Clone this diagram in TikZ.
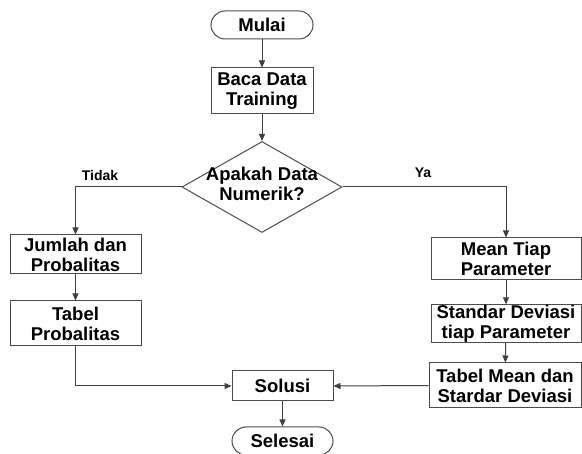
\documentclass[tikz,border=0pt]{standalone}
\usepackage{fontspec}
\setmainfont{Liberation Sans}
\usetikzlibrary{shapes.geometric,arrows.meta}
\begin{document}
\begin{tikzpicture}[x=1pt,y=-1pt,
  every node/.style={font=\bfseries\fontsize{18.5}{20}\selectfont, text=black},
  box/.style={draw=black!70, line width=1pt, fill=white, rectangle, inner sep=0pt, align=center},
  term/.style={box, rounded corners=14pt},
  dia/.style={draw=black!70, line width=1pt, diamond, inner sep=0pt},
  lbl/.style={font=\bfseries\fontsize{14}{15}\selectfont},
  conn/.style={draw=black!75, line width=1pt, -{Triangle[length=7pt,width=6pt]}},
  plain/.style={draw=black!75, line width=1pt}]
\useasboundingbox[fill=white] (0,0) rectangle (582,454);
\node[term, minimum width=102pt, minimum height=28pt] (mulai) at (262,25) {Mulai};
\node[box, minimum width=102pt, minimum height=46pt] (baca) at (262,91) {Baca Data\\Training};
\node[dia, minimum width=160pt, minimum height=91pt] (d) at (262,187) {};
\node[align=center, inner sep=0pt] (dtext) at (262,184) {Apakah Data\\Numerik?};
\node[box, minimum width=131pt, minimum height=39pt] (jumlah) at (75.5,254.5) {Jumlah dan\\Probalitas};
\node[box, minimum width=131pt, minimum height=45pt] (tabelp) at (75.5,323.5) {Tabel\\Probalitas};
\node[box, minimum width=150pt, minimum height=42pt] (mean) at (506,259) {Mean Tiap\\Parameter};
\node[box, minimum width=150pt, minimum height=37pt] (std) at (506,323.5) {Standar Deviasi\\tiap Parameter};
\node[box, minimum width=152pt, minimum height=45pt] (tabelm) at (505,385.5) {Tabel Mean dan\\Stardar Deviasi};
\node[box, minimum width=101pt, minimum height=30pt] (solusi) at (282.5,386) {Solusi};
\node[term, minimum width=101pt, minimum height=28pt] (selesai) at (282.5,441) {Selesai};
\node[lbl] (tidak) at (100,175) {Tidak};
\node[lbl] (ya) at (423,173) {Ya};
\draw[conn] (mulai) -- (baca);
\draw[conn] (baca) -- (d.north);
\draw[conn] (d.west) -| (jumlah.north);
\draw[conn] (jumlah) -- (tabelp);
\draw[conn] (tabelp.south) |- (solusi.west);
\draw[conn] (d.east) -| (mean.north);
\draw[conn] (mean) -- (std);
\draw[conn] (std) -- (tabelm);
\draw[conn] (tabelm.west) -- (solusi.east);
\draw[conn] (solusi) -- (selesai);
\end{tikzpicture}
\end{document}
